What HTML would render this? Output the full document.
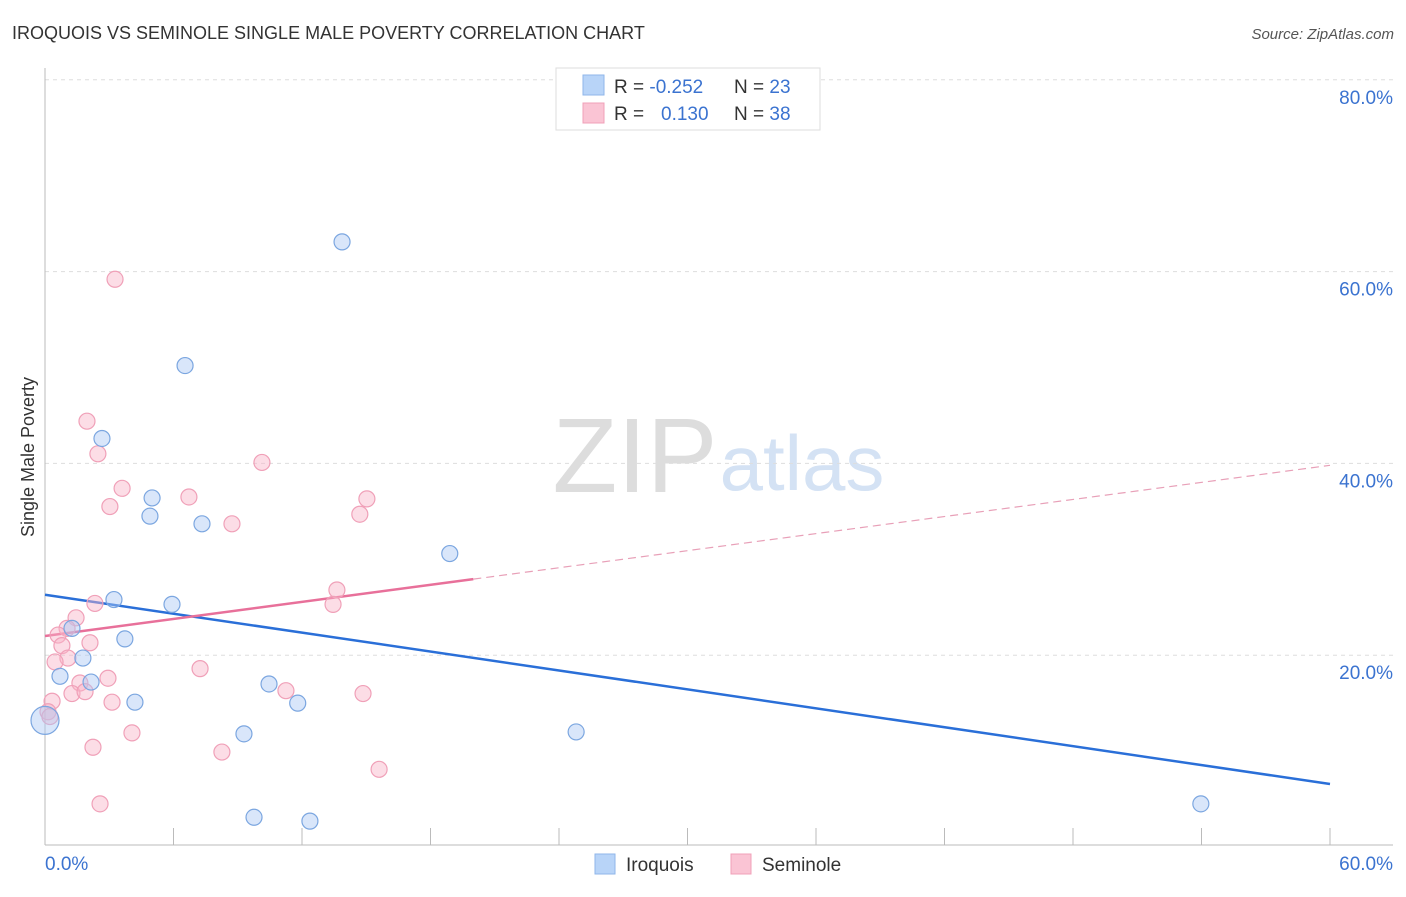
<!DOCTYPE html>
<html><head><meta charset="utf-8"><style>
body{margin:0;background:#fff;font-family:"Liberation Sans",sans-serif;}
svg text{font-family:"Liberation Sans",sans-serif;}
</style></head><body>
<svg id="chart" width="1406" height="892">
<text x="12" y="39" font-size="18" fill="#333">IROQUOIS VS SEMINOLE SINGLE MALE POVERTY CORRELATION CHART</text>
<text x="1394" y="39" font-size="15" fill="#555" text-anchor="end" font-style="italic">Source: ZipAtlas.com</text>
<text x="34" y="457" font-size="18" fill="#333" text-anchor="middle" transform="rotate(-90 34 457)">Single Male Poverty</text>
<g>
<text x="635" y="492" font-size="106" fill="#ddd" font-family="Liberation Serif" text-anchor="middle">ZIP</text>
<text x="802" y="490" font-size="78" fill="#d4e2f4" text-anchor="middle">atlas</text>
</g>
<g id="grid"></g>
<g id="axes"></g>
<g id="lines"></g>
<g id="points"></g>
<g>
<rect x="556" y="68" width="264" height="62" fill="#fff" stroke="#ddd"/>
<rect x="583" y="75" width="21" height="20" fill="#b8d4f8" stroke="#8fb6ea"/>
<rect x="583" y="103" width="21" height="20" fill="#fac4d4" stroke="#f0a0b8"/>
<text x="614" y="93" font-size="19" fill="#333">R = <tspan fill="#3b73d0">-0.252</tspan></text>
<text x="734" y="93" font-size="19" fill="#333">N = <tspan fill="#3b73d0">23</tspan></text>
<text x="614" y="120" font-size="19" fill="#333">R = <tspan fill="#3b73d0" x="661">0.130</tspan></text>
<text x="734" y="120" font-size="19" fill="#333">N = <tspan fill="#3b73d0">38</tspan></text>
</g>
<g>
<rect x="595" y="854" width="20" height="20" fill="#b8d4f8" stroke="#8fb6ea"/>
<text x="626" y="871" font-size="19" fill="#333">Iroquois</text>
<rect x="731" y="854" width="20" height="20" fill="#fac4d4" stroke="#f0a0b8"/>
<text x="762" y="871" font-size="19" fill="#333">Seminole</text>
</g>
</svg>
<script>
const blueX=[13.87,6.54,2.66,5.0,4.9,7.33,18.9,3.22,5.93,3.73,1.26,1.77,0.7,2.15,4.2,10.46,11.8,9.29,24.8,9.76,12.37,53.97,0];
const blueY=[63.1,50.2,42.6,36.4,34.5,33.7,30.6,25.8,25.3,21.7,22.8,19.7,17.8,17.2,15.1,17.0,15.0,11.8,12.0,3.1,2.7,4.5,13.2];
const pinkX=[3.27,1.96,2.47,10.13,3.6,6.72,3.03,15.03,14.7,8.73,13.63,13.45,2.33,1.45,1.03,0.61,2.1,0.79,1.07,0.47,1.63,2.94,1.26,1.87,11.25,14.85,0.33,3.13,7.24,2.24,4.06,8.26,15.6,2.57,0.14,0.23];
const pinkY=[59.2,44.4,41.0,40.1,37.4,36.5,35.5,36.3,34.7,33.7,26.8,25.3,25.4,23.9,22.8,22.1,21.3,21.0,19.7,19.3,17.1,17.6,16.0,16.2,16.3,16.0,15.2,15.1,18.6,10.4,11.9,9.9,8.1,4.5,14.1,13.6];
const yTicks=[20,40,60,80];
const xTickLabels=["0.0%","60.0%"];
const blueTrend=[26.3,6.57];
const pinkTrend=[22.0,39.8];
const pinkSolidEnd=20;
const NS="http://www.w3.org/2000/svg";
const X=v=>45+v*1285/60;
const Y=v=>847-v*9.59;
function mk(tag,attrs,parent){const e=document.createElementNS(NS,tag);for(const k in attrs)e.setAttribute(k,attrs[k]);document.getElementById(parent).appendChild(e);return e;}
yTicks.forEach(t=>{
 const l=mk('line',{x1:45,x2:1393,y1:Y(t),y2:Y(t),stroke:'#ddd','stroke-dasharray':'4,4'},'grid');
 
 
 const tx=mk('text',{x:1393,y:Y(t)+24,'font-size':19,fill:'#3b73d0','text-anchor':'end'},'grid');
 tx.textContent=t.toFixed(1)+'%';
 
 
});
mk('line',{x1:45,x2:45,y1:68,y2:845,stroke:'#bbb'},'axes');
mk('line',{x1:45,x2:1393,y1:845,y2:845,stroke:'#bbb'},'axes');
for(let i=0;i<=10;i++){const t=mk('line',{x1:X(i*6),x2:X(i*6),y1:828,y2:845,stroke:'#bbb'},'axes');
 
 }
const xl0=mk('text',{x:45,y:870,'font-size':19,fill:'#3b73d0'},'axes');xl0.textContent=xTickLabels[0];


const xl1=mk('text',{x:1393,y:870,'font-size':19,fill:'#3b73d0','text-anchor':'end'},'axes');xl1.textContent=xTickLabels[1];


const bl=mk('line',{x1:X(0),y1:Y(blueTrend[0]),x2:X(60),y2:Y(blueTrend[1]),stroke:'#2a6fd8','stroke-width':2.5},'lines');


const py=x=>pinkTrend[0]+(pinkTrend[1]-pinkTrend[0])*x/60;
const pl=mk('line',{x1:X(0),y1:Y(py(0)),x2:X(pinkSolidEnd),y2:Y(py(pinkSolidEnd)),stroke:'#e8709a','stroke-width':2.5},'lines');


const pd=mk('line',{x1:X(pinkSolidEnd),y1:Y(py(pinkSolidEnd)),x2:X(60),y2:Y(py(60)),stroke:'#e8a0b8','stroke-width':1.2,'stroke-dasharray':'8,5'},'lines');


pinkX.forEach((x,i)=>{const c=mk('circle',{cx:X(x),cy:Y(pinkY[i]),r:8,fill:'rgba(248,180,200,0.45)',stroke:'#f0a0b8','stroke-width':1.2},'points');
 
 });
blueX.forEach((x,i)=>{const c=mk('circle',{cx:X(x),cy:Y(blueY[i]),r:i===blueX.length-1?14:8,fill:'rgba(170,200,245,0.45)',stroke:'#7ba6e0','stroke-width':1.2},'points');
 
 });
</script>
</body></html>
